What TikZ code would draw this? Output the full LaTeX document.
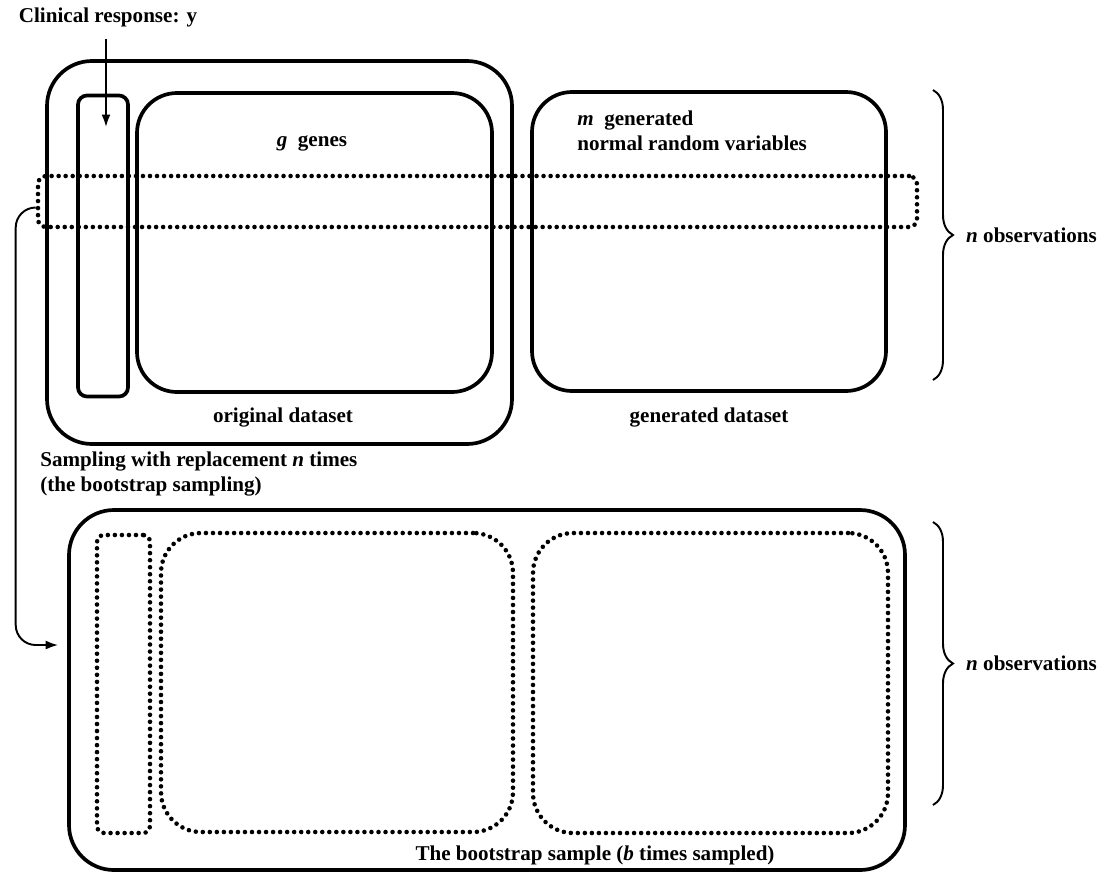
\documentclass[tikz,border=0pt]{standalone}
\usepackage{fontspec}
\setmainfont{Liberation Serif}
\usetikzlibrary{decorations.pathreplacing,arrows.meta}
\tikzset{
  >={Latex[length=0.25cm,width=0.18cm]},
  box/.style={draw, line width=2.1pt, inner sep=0pt},
  dotbox/.style={draw, line width=2.6pt, line cap=round, dash pattern=on 0pt off 4pt, inner sep=0pt},
  wh/.style 2 args={minimum width=#1*0.02cm, minimum height=#2*0.02cm},
  nbrace/.style={decorate, decoration={brace, amplitude=0.4cm}, line width=1.1pt},
}
\tikzstyle{every node}=[font=\bfseries\fontsize{12}{14}\selectfont]

\begin{document}
\begin{tikzpicture}[x=0.02cm, y=-0.02cm]
    \useasboundingbox (0,0) rectangle (1115,873);
    % original and generated data
    \node[box, rounded corners=0.9cm, wh={465}{383}] (orig) at (279.5,252.5) {};
    \node[box, rounded corners=0.18cm, wh={50}{301}] (ybox) at (103,246) {};
    \node[box, rounded corners=0.8cm, wh={355}{299}] (genes) at (314.5,242.5) {};
    \node[box, rounded corners=0.8cm, wh={354}{299}] (gen) at (709,241.5) {};
    \node[dotbox, rounded corners=0.16cm, wh={879}{51}] (band) at (477.5,201.5) {};
    \node (genestxt) at (312,143) {\textit{g}\enspace genes};
    \node[anchor=north west, align=left, inner sep=0pt] (mtxt) at (577,111) {\textit{m}\enspace generated\\normal random variables};
    \node (origtxt) at (283,418) {original dataset};
    \node (gentxt) at (709,418) {generated dataset};
    % bootstrap sample
    \node[box, rounded corners=0.9cm, wh={836}{360}] (boot) at (487,690) {};
    \node[dotbox, rounded corners=0.14cm, wh={53}{298}] (bybox) at (123.5,684) {};
    \node[dotbox, rounded corners=0.8cm, wh={352}{299}] (bgenes) at (337,682.5) {};
    \node[dotbox, rounded corners=0.8cm, wh={355}{300}] (bgen) at (710.5,683) {};
    \node (boottxt) at (595,855) {The bootstrap sample (\textit{b} times sampled)};
    \node[anchor=north west, align=left, inner sep=0pt] (samptxt) at (40,452) {Sampling with replacement \textit{n} times\\(the bootstrap sampling)};
    % response and sampling arrows
    \node (clin) at (108,17) {Clinical response: y};
    \coordinate (yin) at (106,127);
    \draw[->, line width=1.1pt, shorten <=0.12cm] (clin.south -| yin) -- (yin);
    \draw[->, line width=1.1pt, rounded corners=0.4cm, shorten >=0.18cm]
      (band.west) ++(0,6) -- ++(-20,0) |- ([yshift=0.9cm]boot.west);
    % observations
    \draw[nbrace] (933,90) -- (933,380);
    \node[anchor=west] (nobs) at (960,235) {\textit{n} observations};
    \draw[nbrace] (933,522) -- (933,805);
    \node[anchor=west] (bnobs) at (960,663) {\textit{n} observations};
\end{tikzpicture}
\end{document}
